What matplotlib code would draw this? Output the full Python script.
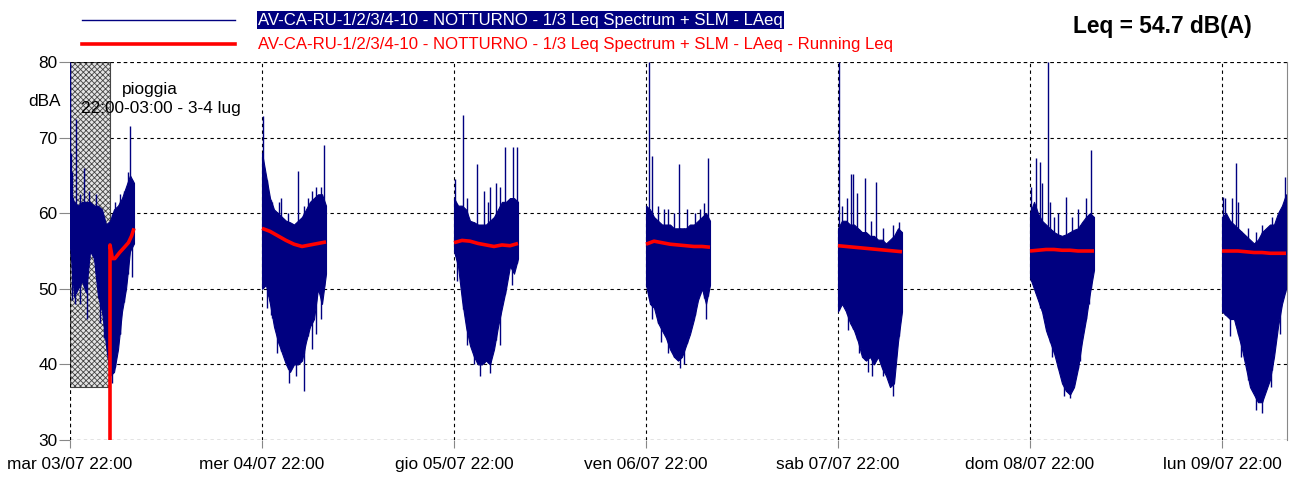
import numpy as np
import matplotlib
matplotlib.use("Agg")
import matplotlib.pyplot as plt
from matplotlib.patches import Rectangle

#===== DATA =====
# hours after 22:00 of each night, LAeq envelope every 30 min
HOURS = [0, 0.5, 1, 1.5, 2, 2.5, 3, 3.5, 4, 4.5, 5, 5.5, 6, 6.5, 7, 7.5, 8]
RUN_HOURS = [0, 1, 2, 3, 4, 5, 6, 7, 8]

DAY_LABELS = ["mar 03/07 22:00", "mer 04/07 22:00", "gio 05/07 22:00",
              "ven 06/07 22:00", "sab 07/07 22:00", "dom 08/07 22:00",
              "lun 09/07 22:00"]

night1_top = [63, 61.5, 61, 61.5, 61.5, 61.5, 61, 61, 60.5, 58.5, 59, 60.5, 61, 62, 63.5, 65, 64]
night1_low = [56, 49, 50, 51, 49.5, 55, 54, 49, 47, 42.5, 38.5, 39, 42, 47, 50, 55, 56]
night1_spikes = [(0.05, 80), (0.15, 68), (0.25, 65.5), (0.75, 72.5), (1.2, 62.5), (1.75, 66),
                 (2.4, 63), (3.2, 62.5), (5.6, 61.5), (6.2, 62.5), (6.7, 63), (7.2, 65.5),
                 (7.5, 71.5)]
night1_dips = [(0.3, 48.5), (0.6, 48), (1.2, 48), (2.1, 46), (3.8, 45.5), (4.3, 43.5),
               (5.3, 37.5), (6.3, 44), (7.8, 51.5)]

night2_top = [68, 65, 62, 60.5, 60, 59.5, 59, 58.8, 58.5, 59, 59.5, 60.5, 61.5, 62, 62.5, 62.5, 61]
night2_low = [50, 50.5, 48, 45, 43, 41.5, 40, 39, 40, 40, 40.5, 43, 45, 46, 50, 48, 52]
night2_spikes = [(0.1, 72.8), (0.8, 62.7), (1.3, 61.5), (2.1, 61.5), (2.4, 62), (3.3, 60),
                 (4.46, 65.6), (5.2, 61), (5.7, 62), (6.3, 63), (6.8, 63.5), (7.4, 63.5),
                 (7.8, 69)]
night2_dips = [(0.6, 47.5), (1.1, 46.5), (1.9, 41.5), (3.4, 37.5), (4.2, 38.5), (5.25, 36.5),
               (6.2, 42), (6.7, 44), (7.4, 46)]

night3_top = [62, 61, 61, 60.5, 59, 58.8, 58.5, 58.5, 58.5, 59, 59.5, 60.5, 61.5, 61.5, 62, 62, 61.5]
night3_low = [55, 53, 48.5, 45, 42.5, 41, 40, 40, 40.5, 40, 42, 45, 47.5, 50, 53, 52, 54]
night3_spikes = [(0.1, 64.5), (1.17, 73), (1.6, 62), (2.9, 66.5), (3.7, 63), (4.3, 61.5),
                 (4.5, 63.5), (5.2, 64), (5.8, 63.5), (6.35, 68.8), (7.4, 68.8), (7.85, 68.8)]
night3_dips = [(0.4, 51), (1.6, 42.5), (2.5, 40), (3.2, 38.5), (4.5, 38.8), (5.7, 42.5),
               (7.3, 50.5)]

night4_top = [61, 60.5, 59.5, 59, 58.5, 58.5, 58.5, 58, 58, 58, 58, 58.5, 58.5, 59, 59.5, 60, 59]
night4_low = [50.5, 48, 47.5, 45.5, 44.5, 43.5, 42, 41, 40.5, 41, 42.5, 44, 46, 48.5, 50, 48, 50.5]
night4_spikes = [(0.35, 80), (0.8, 67.6), (1.5, 61), (2.2, 60.5), (2.7, 60.5), (3.5, 60),
                 (4.1, 66.5), (5.1, 60.5), (6.1, 60), (6.75, 60.5), (7.3, 61.3), (7.7, 67.3)]
night4_dips = [(0.7, 46), (1.9, 43), (2.8, 41.5), (4.3, 39.5), (4.8, 40), (7.5, 46)]

night5_top = [58, 59, 59, 58.5, 58.5, 58, 57.5, 57.5, 57, 57, 56.5, 56.5, 56, 56.5, 57, 58, 57.5]
night5_low = [47, 48, 47, 45.5, 44.5, 43, 41, 40.5, 41, 40, 41, 39.5, 38.5, 37, 37.5, 43, 47]
night5_spikes = [(0.1, 80), (0.5, 61), (1.1, 62), (1.6, 65.2), (1.9, 65.2), (2.4, 62.7),
                 (3.4, 64.6), (4.1, 59), (4.8, 64.1), (5.6, 58), (6.9, 58.5), (7.6, 58.8)]
night5_dips = [(1.3, 44.5), (2.6, 41.5), (3.8, 39), (4.2, 38.5), (5.6, 38.5), (6.9, 35.8)]

night6_top = [60, 61.5, 60, 59, 58.5, 58, 57.5, 57.2, 57, 57.2, 57.5, 57.8, 58, 58.8, 59.5, 60, 59.5]
night6_low = [51.5, 50, 48.5, 47, 44.5, 43, 41.5, 39.5, 37.5, 36.5, 36, 37, 39.5, 43, 46, 49.5, 52.5]
night6_spikes = [(0.15, 63.5), (0.7, 67.3), (1.2, 66.8), (1.5, 64), (2.2, 80), (2.5, 61.5),
                 (3.0, 59.5), (3.5, 60), (4.5, 62.2), (5.3, 59.5), (6.0, 60.5), (7.0, 62),
                 (7.6, 68.4)]
night6_dips = [(1.3, 47.5), (2.7, 41), (4.3, 35.8), (5.0, 35.5), (6.3, 40.5), (7.4, 48)]

night7_top = [59.5, 60, 59, 58.5, 58, 57.5, 57, 56.5, 56, 56.5, 57.5, 58, 58.5, 58.5, 60, 61, 62.5]
night7_low = [47, 46.5, 46, 46, 44, 42, 39.5, 37, 36, 35, 35, 36.5, 38, 41, 45, 48, 50]
night7_spikes = [(0.1, 62.2), (0.4, 62), (1.2, 62), (1.7, 66.6), (2.0, 61.5), (3.3, 58),
                 (4.2, 57.5), (5.0, 58.5), (6.2, 59.5), (7.9, 64.8)]
night7_dips = [(1.0, 43.7), (2.4, 41), (4.3, 34), (5.0, 33.6), (6.1, 37), (7.2, 44)]

# running Leq (red)
run1_hours = [5.0, 5.0, 5.3, 5.6, 6.2, 6.8, 7.3, 7.7, 8.0]
run1_vals = [30, 55.8, 54.0, 54.0, 54.8, 55.5, 56.1, 57.0, 58.0]
run2_vals = [58.0, 57.6, 57.0, 56.4, 55.9, 55.6, 55.8, 56.0, 56.2]
run3_vals = [56.1, 56.4, 56.3, 56.0, 55.8, 55.6, 55.8, 55.7, 56.0]
run4_vals = [55.9, 56.3, 56.1, 55.9, 55.8, 55.7, 55.6, 55.6, 55.5]
run5_vals = [55.7, 55.6, 55.5, 55.4, 55.3, 55.2, 55.1, 55.0, 54.9]
run6_vals = [55.0, 55.1, 55.2, 55.2, 55.1, 55.1, 55.0, 55.0, 55.0]
run7_vals = [55.0, 55.0, 55.0, 54.9, 54.8, 54.8, 54.7, 54.7, 54.7]

RAIN_START, RAIN_END, RAIN_LOW = 0, 5, 37

#===== STYLE =====
NAVY = "#000080"
RED = "#ff0000"
plt.rcParams["font.family"] = ["Liberation Sans", "DejaVu Sans"]
plt.rcParams["hatch.linewidth"] = 0.6
plt.rcParams["hatch.color"] = "#6e6e6e"

fig = plt.figure(figsize=(12.94, 4.78), dpi=100)
ax = fig.add_axes([70 / 1294, 1 - 440 / 478, 1217 / 1294, 378 / 478])

# rain block
ax.add_patch(Rectangle((RAIN_START, RAIN_LOW), RAIN_END - RAIN_START, 80 - RAIN_LOW,
                       facecolor="#e4e4e4", edgecolor="#444444", hatch="xxxxxx",
                       lw=0.8, zorder=1))

nights = [
    (night1_top, night1_low, night1_spikes, night1_dips),
    (night2_top, night2_low, night2_spikes, night2_dips),
    (night3_top, night3_low, night3_spikes, night3_dips),
    (night4_top, night4_low, night4_spikes, night4_dips),
    (night5_top, night5_low, night5_spikes, night5_dips),
    (night6_top, night6_low, night6_spikes, night6_dips),
    (night7_top, night7_low, night7_spikes, night7_dips),
]
runs = [(run1_hours, run1_vals), (RUN_HOURS, run2_vals), (RUN_HOURS, run3_vals),
        (RUN_HOURS, run4_vals), (RUN_HOURS, run5_vals), (RUN_HOURS, run6_vals),
        (RUN_HOURS, run7_vals)]

hrs = np.array(HOURS)
for k, (top, low, spikes, dips) in enumerate(nights):
    off = 24 * k
    ax.fill_between(hrs + off, low, top, facecolor=NAVY, edgecolor=NAVY, lw=0.8, zorder=3)
    sx = np.array([s[0] for s in spikes])
    sv = [s[1] for s in spikes]
    ax.vlines(sx + off, np.interp(sx, hrs, low), sv, color=NAVY, lw=1.0, zorder=3)
    dx = np.array([d[0] for d in dips])
    dv = [d[1] for d in dips]
    ax.vlines(dx + off, dv, np.interp(dx, hrs, top), color=NAVY, lw=1.0, zorder=3)

for k, (rh, rv) in enumerate(runs):
    ax.plot(np.array(rh) + 24 * k, rv, color=RED, lw=2.6, zorder=4,
            solid_capstyle="butt")

#===== AXES =====
ax.set_xlim(0, 1217 / 8)
ax.set_ylim(30, 80)
ax.set_xticks([24 * i for i in range(len(DAY_LABELS))])
ax.set_xticklabels(DAY_LABELS, fontsize=12.4)
ax.set_yticks([30, 40, 50, 60, 70, 80])
ax.tick_params(axis="y", labelsize=12.4, length=8, color="#888888", pad=1)
ax.tick_params(axis="x", length=6, color="#888888", pad=6)
ax.grid(True, color="black", ls=(0, (3, 3)), lw=0.8, zorder=2)
for side in ["left", "top", "bottom"]:
    ax.spines[side].set_visible(False)
ax.spines["right"].set_color("#888888")
ax.set_axisbelow(True)
ax.axhline(80, color="black", ls=(0, (3, 3)), lw=0.8, zorder=2)
ax.axhline(30, color="black", ls=(0, (3, 3)), lw=0.8, zorder=2)
ax.axvline(0, color="black", ls=(0, (3, 3)), lw=0.8, zorder=2)

ax.text(-0.0345, 0.895, "dBA", transform=ax.transAxes, fontsize=12.4, ha="left", va="center")
ax.text(10, 76.3, "pioggia", fontsize=12.4, ha="center", va="center", zorder=5)
ax.text(11.3, 73.9, "22:00-03:00 - 3-4 lug", fontsize=12.4, ha="center", va="center", zorder=5)

#===== LEGEND / TITLE =====
fig.add_artist(plt.Line2D([82 / 1294, 235 / 1294], [1 - 20 / 478] * 2, color=NAVY, lw=1.0))
fig.add_artist(plt.Line2D([82 / 1294, 235 / 1294], [1 - 44 / 478] * 2, color=RED, lw=2.6))
fig.text(258 / 1294, 1 - 20 / 478, "AV-CA-RU-1/2/3/4-10 - NOTTURNO - 1/3 Leq Spectrum + SLM - LAeq",
         color="white", fontsize=12.1, va="center",
         bbox=dict(facecolor=NAVY, edgecolor="none", pad=1))
fig.text(258 / 1294, 1 - 44 / 478,
         "AV-CA-RU-1/2/3/4-10 - NOTTURNO - 1/3 Leq Spectrum + SLM - LAeq - Running Leq",
         color=RED, fontsize=12.1, va="center")
fig.text(1252 / 1294, 1 - 27 / 478, "Leq = 54.7 dB(A)", fontsize=16.4, fontweight="bold",
         ha="right", va="center")

fig.savefig("out.png", dpi=100)
